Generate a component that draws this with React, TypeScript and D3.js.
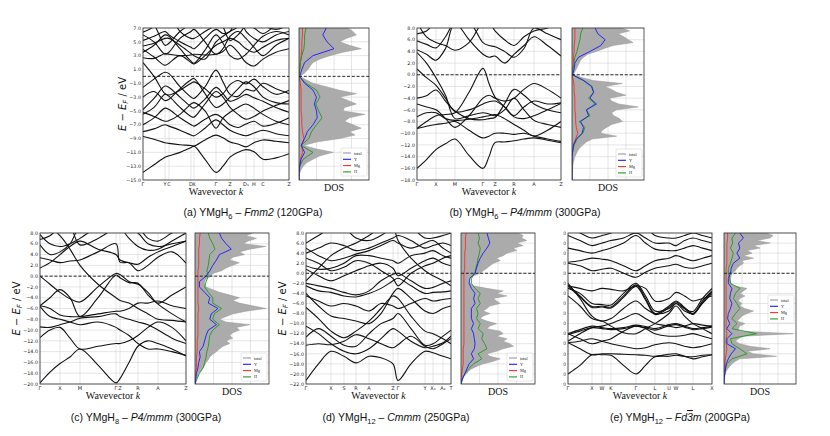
import React from 'react';
import * as d3 from 'd3';

// ---------- (a) YMgH6 Fmm2 ----------
const kLabelsA = ['Γ', 'Y', 'C', 'D', 'X', 'Γ', 'Z', 'D₁', 'H', 'C', 'Z'];
const kTicksA = [0, 22, 26, 48, 51, 73, 87, 103, 111, 120, 146];
const kGridA = [0, 11, 22, 26, 37, 48, 51, 62, 73, 80, 87, 95, 103, 111, 120, 133, 146];
const bandsA = [
  [-13.9, -12.8, -11.7, -11.5, -11.0, -10.3, -10.1, -12.0, -13.9, -13.0, -11.7, -11.0, -10.6, -10.9, -12.0, -11.8, -11.2],
  [-8.7, -9.1, -9.6, -9.7, -9.9, -10.0, -10.1, -9.2, -8.5, -8.9, -9.5, -9.8, -10.2, -9.6, -9.2, -9.4, -9.6],
  [-8.0, -7.6, -7.0, -7.2, -7.8, -8.5, -8.6, -7.5, -6.3, -7.0, -7.8, -8.3, -8.6, -8.2, -7.8, -8.3, -8.6],
  [-7.0, -6.0, -4.6, -4.8, -6.0, -7.0, -7.2, -6.2, -5.5, -6.1, -7.0, -7.4, -6.9, -6.5, -7.2, -6.8, -6.0],
  [-5.5, -4.5, -2.6, -2.9, -4.5, -5.8, -5.9, -4.0, -2.2, -3.0, -4.5, -5.5, -6.2, -5.8, -5.0, -4.2, -3.5],
  [-4.8, -3.2, -1.4, -1.6, -3.0, -4.4, -4.6, -3.3, -1.6, -2.5, -3.6, -3.2, -2.6, -3.1, -3.6, -4.5, -5.2],
  [-1.6, -0.4, 0.6, 0.4, -1.5, -3.0, -3.2, -1.5, 0.9, -0.8, -2.6, -2.9, -1.9, -2.1, -1.0, -1.8, -2.5],
  [2.0, 0.0, -2.5, -2.7, -2.0, -1.0, -0.8, -1.8, -3.0, -2.5, -1.2, -0.6, -1.1, -0.4, -1.5, -2.6, -2.0],
  [2.7, 2.6, 3.3, 3.2, 3.0, 3.1, 3.2, 3.1, 3.2, 3.6, 4.5, 3.5, 2.0, 1.5, 2.5, 3.5, 4.0],
  [3.9, 2.8, 1.6, 1.9, 3.0, 2.0, 1.8, 3.0, 4.5, 5.0, 5.5, 5.0, 4.0, 3.5, 4.2, 5.2, 5.5],
  [5.2, 5.8, 6.5, 6.0, 5.0, 4.2, 4.0, 5.5, 6.8, 6.2, 6.5, 9, 6.5, 5.5, 5.0, 6.0, 6.5],
  [6.4, 7.2, 9, 9, 6.5, 5.5, 5.5, 6.5, 7.5, 9, 9, 9, 7.5, 7.0, 6.2, 7.5, 9],
  [9, 7.5, 4.5, 4.8, 6.5, 7.5, 7.6, 9, 9, 7.2, 5.2, 6.0, 7.5, 9, 9, 9, 9],
  [4.4, 4.8, 5.5, 5.5, 4.5, 3.3, 3.0, 2.5, 5.0, 5.8, 6.5, 7.2, 9, 9, 7.5, 6.8, 7.5],
  [-5.2, -5.8, -6.5, -6.4, -5.5, -4.0, -3.8, -5.0, -7.5, -6.0, -5.2, -4.5, -4.0, -4.6, -5.5, -6.5, -7.0],
  [3.5, 4.5, 6.0, 5.8, 4.0, 2.2, 1.9, 3.8, 6.0, 4.8, 3.0, 2.5, 3.2, 4.5, 5.8, 6.5, 6.0],
  [6.0, 5.0, 3.2, 3.5, 5.5, 6.5, 6.8, 5.0, 3.2, 4.0, 5.8, 6.5, 5.5, 4.2, 3.0, 4.5, 5.5],
  [-3.0, -2.2, -3.5, -3.3, -1.8, -0.5, -0.3, -2.5, -4.5, -4.0, -3.0, -1.8, -0.8, -1.5, -3.0, -3.8, -4.0],
];
// DOS: total every 0.5 eV from the top energy, partials every 1 eV
const dosTotalA = [0.70, 0.77, 0.82, 0.68, 0.58, 0.72, 0.89, 0.63, 0.44, 0.30, 0.20, 0.16, 0.13, 0.08, 0.02,
  0.10, 0.20, 0.39, 0.58, 0.82, 0.58, 0.70, 0.82, 0.65, 0.63, 0.94, 0.72, 0.65, 0.77, 0.89, 0.72, 0.80, 0.58,
  0.25, 0.07, 0.25, 0.49, 0.30, 0.20, 0.11, 0.06, 0.03, 0.01, 0, 0];
const dosYA = [0.39, 0.34, 0.40, 0.50, 0.20, 0.08, 0.04, 0.01, 0.08, 0.20, 0.25, 0.22, 0.25, 0.26, 0.20, 0.12, 0.08, 0.03, 0.08, 0.03, 0.01, 0, 0];
const dosMgA = [0.05, 0.05, 0.04, 0.04, 0.03, 0.02, 0.01, 0.0, 0.02, 0.03, 0.03, 0.03, 0.03, 0.04, 0.04, 0.05, 0.07, 0.04, 0.05, 0.02, 0.01, 0, 0];
const dosHA = [0.10, 0.08, 0.08, 0.07, 0.04, 0.02, 0.01, 0.0, 0.10, 0.25, 0.30, 0.24, 0.28, 0.33, 0.25, 0.18, 0.14, 0.03, 0.20, 0.06, 0.01, 0, 0];

// ---------- (b) YMgH6 P4/mmm ----------
const kLabelsB = ['Γ', 'X', 'M', 'Γ', 'Z', 'R', 'A', 'Z'];
const kTicksB = [0, 19, 38, 66, 78, 97, 117, 144];
const kGridB = [0, 9.5, 19, 28.5, 38, 52, 66, 72, 78, 87.5, 97, 107, 117, 130.5, 144];
const bandsB = [
  [-16, -14.5, -12.8, -11.8, -11.0, -13.8, -16, -14, -11.6, -11.5, -11.3, -11.0, -10.8, -11.2, -11.6],
  [-9.2, -8.0, -7.0, -6.8, -6.5, -3.0, 1.1, -1.5, -3.8, -5.5, -7.2, -7.5, -7.0, -6.0, -4.9],
  [1.0, -0.5, -1.8, -4.0, -6.3, -6.0, -5.0, -4.6, -4.5, -5.5, -7.0, -5.5, -4.5, -5.0, -4.8],
  [3.8, 2.0, -0.5, -3.5, -7.5, -7.0, -6.5, -6.7, -7.0, -6.0, -4.0, -6.0, -7.8, -8.5, -9.0],
  [-4.0, -3.6, -2.6, -4.5, -6.2, -7.5, -7.7, -7.5, -7.3, -5.0, -2.5, -3.5, -5.0, -6.0, -6.5],
  [-7.2, -6.5, -6.5, -7.5, -7.8, -7.6, -7.2, -7.0, -6.8, -7.5, -8.5, -9.5, -10.5, -9.5, -8.0],
  [-9.2, -8.8, -8.5, -8.3, -8.0, -9.5, -10.8, -10.5, -10.0, -10.0, -10.2, -10.0, -10.5, -11.0, -11.4],
  [9, 6.5, 5.5, 5.0, 4.2, 5.5, 9, 9, 9, 9, 9, 9, 9, 9, 9],
  [4.3, 3.5, 2.5, 4.5, 9, 9, 9, 9, 9, 9, 9, 9, 9, 9, 9],
  [5.8, 5.2, 4.6, 6.5, 9, 9, 9, 9, 9, 9, 9, 9, 9, 9, 9],
  [9, 9, 9, 9, 9, 6.0, 3.5, 3.0, 3.2, 2.0, 3.5, 5.0, 6.5, 5.0, 3.2],
  [9, 9, 9, 9, 9, 9, 5.5, 5.0, 4.8, 4.0, 3.0, 4.5, 8.0, 7.0, 6.0],
  [-5.0, -5.5, -6.0, -7.5, -9.0, -7.0, -4.0, -3.5, -4.0, -4.5, -4.0, -2.5, -1.5, -2.5, -4.0],
  [7.0, 7.5, 9, 9, 9, 9, 9, 9, 7.5, 6.0, 5.0, 6.5, 7.5, 8.0, 9],
];
const dosTotalB = [0.69, 0.80, 0.64, 0.72, 0.78, 0.85, 0.57, 0.45, 0.34, 0.22, 0.16, 0.12, 0.10, 0.08, 0.06, 0.04, 0.02,
  0.15, 0.30, 0.70, 0.45, 0.55, 0.62, 0.75, 0.52, 0.55, 0.65,
  0.92, 0.62, 0.55, 0.58, 0.66, 0.70, 0.55, 0.48, 0.42, 0.40,
  0.62, 0.28, 0.20, 0.15, 0.11, 0.08, 0.06, 0.04, 0.03, 0.02,
  0.01, 0.01, 0.005, 0, 0, 0];
const dosYB = [0.32, 0.36, 0.46, 0.40, 0.25, 0.09, 0.04, 0.03, 0.01, 0.16, 0.27, 0.30, 0.25, 0.34, 0.20, 0.23, 0.12, 0.16, 0.14, 0.06, 0.02, 0.01, 0, 0, 0, 0, 0];
const dosMgB = [0.04, 0.04, 0.04, 0.03, 0.03, 0.02, 0.02, 0.01, 0, 0.02, 0.03, 0.03, 0.04, 0.04, 0.04, 0.05, 0.05, 0.06, 0.08, 0.05, 0.02, 0.01, 0, 0, 0, 0, 0];
const dosHB = [0.15, 0.12, 0.11, 0.09, 0.07, 0.04, 0.03, 0.02, 0.0, 0.17, 0.28, 0.30, 0.23, 0.32, 0.20, 0.25, 0.10, 0.18, 0.15, 0.07, 0.03, 0.01, 0, 0, 0, 0, 0];

// ---------- (c) YMgH8 P4/mmm ----------
const kLabelsC = ['Γ', 'X', 'M', 'Γ', 'Z', 'R', 'A', 'Z'];
const kTicksC = [0, 20, 40, 76, 80, 98, 118, 146];
const kGridC = [0, 10, 20, 30, 40, 58, 76, 80, 89, 98, 108, 118, 132, 146];
const bandsC = [
  [-19.8, -17.8, -16.2, -15.0, -13.5, -16.5, -19.8, -19.0, -16.0, -13.0, -12.0, -12.5, -13.5, -14.8],
  [-11.4, -10.0, -9.5, -11.5, -13.5, -13.0, -12.5, -12.5, -12.0, -11.0, -9.5, -8.5, -9.5, -12.0],
  [-9.4, -9.5, -9.0, -8.5, -7.8, -7.5, -7.0, -7.5, -8.0, -8.5, -9.0, -10.0, -11.5, -12.5],
  [0.0, -1.5, -3.0, -4.2, -4.8, -2.0, 0.5, 0.3, -1.0, -1.5, -3.0, -5.0, -3.5, -2.0],
  [-5.5, -6.0, -7.2, -7.5, -7.5, -7.0, -6.5, -6.5, -6.0, -5.0, -5.0, -4.6, -5.5, -6.0],
  [-5.5, -4.0, -2.5, -4.0, -7.5, -4.0, 0.2, -0.3, -1.2, -1.3, -3.5, -5.2, -7.0, -8.5],
  [-5.6, -7.5, -8.0, -8.5, -9.0, -8.5, -9.5, -10.0, -11.0, -12.5, -13.5, -13.5, -14.0, -14.7],
  [1.5, 2.5, 4.0, 5.5, 6.5, 5.0, 4.0, 3.0, 2.5, 2.2, 3.5, 4.5, 5.5, 6.5],
  [3.4, 3.0, 2.5, 2.8, 3.0, 4.5, 6.0, 2.6, 2.5, 1.0, 2.0, 3.5, 4.5, 2.4],
  [5.8, 4.0, 4.5, 6.0, 9, 9, 9, 9, 7.0, 5.5, 4.8, 5.0, 6.5, 8.0],
  [7.7, 6.0, 5.5, 6.0, 7.0, 9, 9, 9, 9, 9, 7.0, 6.5, 8.0, 9],
  [9, 9, 7.5, 5.0, 2.0, -1.5, -4.0, -4.5, -5.0, -6.0, -7.0, -8.0, -8.2, -8.5],
  [6.8, 7.5, 9, 9, 5.8, 7.0, 9, 9, 9, 8.0, 6.0, 5.5, 6.0, 6.5],
];
const dosTotalC = [0.78, 0.69, 0.83, 0.72, 0.65, 0.96, 0.74, 0.60, 0.67, 0.51, 0.47, 0.60, 0.51, 0.42, 0.36, 0.24, 0.22,
  0.15, 0.13, 0.13, 0.15, 0.24, 0.33, 0.47, 0.60, 0.51, 0.60,
  0.78, 0.96, 0.69, 0.51, 0.42, 0.33, 0.42, 0.74, 0.56, 0.60,
  0.51, 0.47, 0.51, 0.42, 0.47, 0.38, 0.33, 0.29, 0.24, 0.20,
  0.18, 0.15, 0.13, 0.11, 0.08, 0.05, 0.04, 0.02, 0.01, 0];
const dosYC = [0.33, 0.36, 0.42, 0.49, 0.33, 0.29, 0.24, 0.20, 0.15, 0.06, 0.06, 0.13, 0.20, 0.18, 0.31, 0.22, 0.20, 0.29, 0.18,
  0.15, 0.13, 0.11, 0.06, 0.07, 0.05, 0.04, 0.02, 0.01, 0];
const dosMgC = [0.07, 0.06, 0.06, 0.05, 0.05, 0.05, 0.05, 0.04, 0.04, 0.04, 0.04, 0.04, 0.04, 0.04, 0.05, 0.04, 0.04, 0.04, 0.04,
  0.04, 0.03, 0.03, 0.03, 0.02, 0.02, 0.02, 0.01, 0.01, 0];
const dosHC = [0.18, 0.20, 0.24, 0.27, 0.20, 0.19, 0.18, 0.16, 0.18, 0.15, 0.13, 0.18, 0.24, 0.24, 0.36, 0.26, 0.24, 0.33, 0.24,
  0.20, 0.19, 0.18, 0.16, 0.15, 0.13, 0.11, 0.06, 0.03, 0];

// ---------- (d) YMgH12 Cmmm ----------
const kLabelsD = ['Γ', 'X', 'S', 'R', 'A', 'Z', 'Γ', 'Y', 'X₁', 'A₁', 'T'];
const kTicksD = [0, 25, 38, 50, 63, 87, 92, 119, 127, 137, 145];
const kGridD = [0, 12.5, 25, 38, 50, 63, 75, 87, 92, 105, 119, 127, 137, 145];
const bandsD = [
  [-21.3, -18.0, -15.5, -16.5, -17.8, -16.5, -16.8, -18.0, -21.3, -18.0, -15.5, -15.8, -16.5, -17.0],
  [-14.3, -14.0, -14.2, -13.5, -12.2, -13.0, -14.0, -14.8, -14.2, -12.5, -14.5, -15.0, -14.0, -13.0],
  [-12.7, -11.0, -12.5, -14.3, -14.5, -12.0, -10.0, -9.0, -8.0, -11.0, -14.3, -14.0, -12.5, -11.3],
  [-6.8, -9.0, -11.5, -12.8, -11.5, -9.5, -7.0, -4.5, -5.0, -8.5, -11.5, -12.0, -13.0, -14.0],
  [-4.0, -6.5, -8.5, -9.0, -9.5, -10.0, -8.0, -4.0, -3.0, -5.0, -7.5, -8.0, -7.0, -6.5],
  [-2.5, -3.5, -3.8, -4.5, -4.7, -4.0, -3.0, -1.5, -1.0, -2.5, -4.0, -3.8, -3.7, -3.5],
  [-2.0, -2.5, -3.0, -3.8, -4.3, -3.5, -1.5, -0.2, 0.0, -1.5, -3.0, -2.8, -2.0, -1.5],
  [0.8, -0.5, -1.5, -0.5, 0.5, 1.5, 2.0, 1.0, -0.5, 1.0, 2.5, 3.0, 2.0, 1.5],
  [1.5, 0.8, 1.0, 2.0, 3.5, 3.5, 3.0, 2.5, 2.0, 3.5, 4.0, 4.5, 3.5, 3.0],
  [4.0, 5.0, 6.0, 5.5, 4.5, 5.0, 6.0, 7.0, 7.5, 6.5, 5.0, 5.5, 6.0, 5.5],
  [6.0, 7.5, 9, 9, 7.0, 6.5, 7.5, 9, 9, 9, 7.0, 7.0, 7.5, 8.0],
  [5.0, 3.5, 2.5, 3.0, 3.8, 4.5, 5.5, 6.5, 6.0, 5.0, 6.0, 6.5, 5.0, 4.0],
  [-1.5, 1.0, 3.5, 5.0, 6.0, 7.5, 9, 9, 6.5, 3.0, 0.5, -0.5, -1.5, -2.5],
  [-10.5, -12.0, -14.0, -15.5, -16.0, -15.0, -13.0, -11.0, -11.5, -13.5, -14.8, -14.5, -13.8, -12.5],
  [3.0, 2.0, 0.5, 1.2, 2.5, 2.0, 0.5, -1.0, -2.5, 0.0, 1.5, 2.0, 3.0, 3.5],
  [-4.5, -5.5, -6.5, -6.0, -6.5, -7.5, -6.0, -6.5, -7.0, -6.0, -5.0, -5.5, -5.2, -5.0],
];
const dosTotalD = [0.77, 0.84, 0.82, 0.89, 0.75, 0.84, 0.71, 0.75, 0.62, 0.57, 0.48, 0.53, 0.44, 0.39, 0.35, 0.30, 0.26,
  0.17, 0.12, 0.11, 0.12, 0.17, 0.35, 0.57, 0.48, 0.62, 0.44,
  0.48, 0.53, 0.39, 0.35, 0.30, 0.39, 0.30, 0.26, 0.35, 0.48,
  0.39, 0.35, 0.53, 0.57, 0.48, 0.62, 0.57, 0.66, 0.71, 0.57,
  0.48, 0.35, 0.39, 0.53, 0.44, 0.30, 0.21, 0.14, 0.10, 0.07,
  0.04, 0.02, 0.01, 0];
const dosYD = [0.35, 0.37, 0.39, 0.35, 0.30, 0.26, 0.23, 0.21, 0.19, 0.12, 0.11, 0.14, 0.19, 0.17, 0.19, 0.14, 0.14, 0.14, 0.17,
  0.14, 0.17, 0.18, 0.19, 0.18, 0.14, 0.17, 0.11, 0.08, 0.05, 0.02, 0];
const dosMgD = [0.07, 0.06, 0.06, 0.06, 0.05, 0.05, 0.05, 0.05, 0.04, 0.04, 0.04, 0.04, 0.04, 0.04, 0.04, 0.04, 0.04, 0.04, 0.04,
  0.04, 0.04, 0.04, 0.04, 0.03, 0.03, 0.03, 0.03, 0.02, 0.01, 0.01, 0];
const dosHD = [0.23, 0.25, 0.23, 0.26, 0.25, 0.23, 0.22, 0.20, 0.19, 0.14, 0.14, 0.19, 0.26, 0.23, 0.26, 0.21, 0.23, 0.21, 0.26,
  0.23, 0.30, 0.28, 0.32, 0.35, 0.23, 0.28, 0.17, 0.10, 0.05, 0.02, 0];

// ---------- (e) YMgH12 Fd-3m ----------
const kLabelsE = ['Γ', 'X', 'W', 'K', 'Γ', 'L', 'U', 'W', 'L', 'X'];
const kTicksE = [0, 24, 34, 43, 68, 87, 101, 108, 125, 144];
const kGridE = [0, 12, 24, 34, 43, 55.5, 68, 77.5, 87, 101, 108, 116.5, 125, 134.5, 144];
const bandsE = [
  [-20, -18.3, -16.2, -16.2, -16.3, -18.3, -20, -18.3, -16.6, -16.5, -16.3, -16.5, -16.6, -16.3, -16.2],
  [-13.8, -15.0, -16.2, -16.0, -16.0, -16.1, -16.2, -16.3, -16.5, -16.1, -16.0, -16.5, -17.0, -16.6, -16.2],
  [-13.8, -13.5, -13.0, -13.5, -14.0, -14.5, -15.0, -14.8, -14.2, -13.8, -14.0, -14.5, -14.8, -14.5, -14.0],
  [-12.0, -13.0, -14.0, -13.5, -13.0, -11.5, -10.5, -11.0, -12.0, -12.5, -12.5, -12.3, -12.0, -12.5, -13.0],
  [-12.0, -11.2, -10.5, -10.8, -11.0, -10.8, -10.3, -10.6, -11.0, -10.2, -10.0, -10.5, -11.0, -10.8, -10.5],
  [-2.3, -4.5, -6.6, -6.5, -6.7, -4.5, -2.3, -5.0, -8.0, -6.5, -5.5, -6.8, -8.0, -5.5, -3.5],
  [-2.0, -5.0, -8.5, -9.5, -9.0, -7.0, -5.5, -7.0, -8.0, -7.5, -6.0, -7.5, -8.0, -6.0, -4.0],
  [-4.5, -6.5, -9.0, -9.5, -10.5, -11.8, -12.0, -11.0, -10.0, -8.0, -6.5, -8.5, -10.0, -11.0, -12.0],
  [-2.5, -3.0, -3.5, -3.0, -3.2, -3.5, -2.5, -3.0, -5.5, -5.0, -3.8, -4.5, -5.5, -5.0, -4.5],
  [2.0, 1.5, 0.5, 0.8, 1.0, 0.0, -0.8, 0.2, 1.0, 1.5, 1.8, 1.2, 1.0, 1.5, 2.0],
  [2.2, 2.5, 3.0, 2.8, 2.5, 1.5, 0.5, 1.5, 2.5, 3.0, 3.5, 3.0, 2.5, 3.0, 3.5],
  [5.0, 4.5, 4.0, 4.5, 5.0, 6.0, 7.5, 6.0, 4.8, 4.5, 4.5, 5.0, 5.5, 5.0, 4.5],
  [7.5, 6.5, 5.5, 6.0, 6.5, 7.0, 8.0, 7.0, 6.0, 6.0, 5.5, 6.5, 7.0, 6.5, 6.0],
  [9, 8.0, 7.0, 7.5, 8.0, 9, 8.0, 9, 7.5, 7.0, 7.0, 7.5, 8.0, 7.5, 7.0],
  [-13.5, -12.0, -10.8, -10.5, -10.0, -9.0, -8.0, -9.0, -10.0, -10.5, -10.8, -10.5, -10.0, -10.3, -10.5],
  [-3.0, -4.0, -6.0, -6.2, -6.3, -4.0, -2.0, -4.5, -7.5, -7.0, -6.0, -7.0, -7.6, -5.0, -3.0],
  [-12.2, -11.5, -10.8, -11.0, -11.2, -11.0, -10.5, -10.8, -11.3, -10.4, -10.2, -10.7, -11.2, -11.0, -10.7],
  [-2.6, -4.7, -6.8, -6.7, -6.9, -4.8, -2.6, -5.3, -8.2, -6.8, -5.7, -7.0, -8.2, -5.8, -3.7],
];
const dosTotalE = [0.59, 0.68, 0.64, 0.45, 0.64, 0.41, 0.50, 0.32, 0.39, 0.27, 0.41, 0.25, 0.27, 0.22, 0.18, 0.16, 0.11,
  0.10, 0.09, 0.09, 0.10, 0.13, 0.32, 0.27, 0.22, 0.29, 0.22,
  0.20, 0.25, 0.22, 0.29, 0.41, 0.32, 0.25, 0.22, 0.18, 0.29,
  0.22, 0.20, 0.22, 0.96, 0.27, 0.20, 0.16, 0.22, 0.36, 0.64,
  0.32, 0.41, 0.73, 0.22, 0.16, 0.11, 0.08, 0.05, 0.03, 0.02,
  0.01, 0.005, 0, 0];
const dosYE = [0.22, 0.27, 0.20, 0.22, 0.18, 0.22, 0.13, 0.10, 0.09, 0.06, 0.06, 0.11, 0.09, 0.08, 0.11, 0.09, 0.06, 0.05, 0.08,
  0.04, 0.11, 0.04, 0.04, 0.16, 0.10, 0.06, 0.03, 0.02, 0.01, 0, 0];
const dosMgE = [0.05, 0.05, 0.04, 0.04, 0.04, 0.04, 0.04, 0.03, 0.03, 0.03, 0.03, 0.03, 0.03, 0.03, 0.03, 0.03, 0.03, 0.03, 0.03,
  0.03, 0.04, 0.03, 0.03, 0.04, 0.03, 0.02, 0.01, 0.01, 0, 0, 0];
const dosHE = [0.16, 0.11, 0.12, 0.09, 0.13, 0.11, 0.09, 0.06, 0.06, 0.08, 0.09, 0.22, 0.16, 0.13, 0.18, 0.22, 0.16, 0.11, 0.18,
  0.11, 0.45, 0.09, 0.11, 0.22, 0.32, 0.11, 0.04, 0.02, 0.01, 0, 0];

const legendNames = ['total', 'Y', 'Mg', 'H'];
const legendColors = ['#999999', '#1a1aff', '#ff2a2a', '#1e9a1e'];

const SANS = 'DejaVu Sans, sans-serif';
const SERIF = 'Liberation Serif, Times New Roman, serif';

type PanelProps = {
  id: string;
  x0: number; x1: number; d0: number; d1: number; top: number; bottom: number;
  eMin: number; eMax: number;
  kTicks: number[]; kLabels: string[]; kGrid: number[]; bands: number[][];
  total: number[]; dY: number[]; dMg: number[]; dH: number[];
  legendTop: number;
  yLabelX: number | null;
  clipTicks?: boolean;
  caption: React.ReactNode; capX: number; capY: number;
};

function Panel(p: PanelProps) {
  const ys = d3.scaleLinear().domain([p.eMin, p.eMax]).range([p.bottom, p.top]);
  const xs = d3.scaleLinear().domain([0, p.kTicks[p.kTicks.length - 1]]).range([p.x0, p.x1]);
  const xd = d3.scaleLinear().domain([0, 1]).range([p.d0, p.d1]);
  const yTicks = d3.range(p.eMin, p.eMax + 0.001, 2);
  const fmt = d3.format('.1f');
  const bandLine = d3.line<number>().x((_, i) => xs(p.kGrid[i])).y(d => ys(d)).curve(d3.curveCatmullRom.alpha(0.5));
  const totalArea = d3.area<number>().y((_, i) => ys(p.eMax - i * 0.5)).x0(xd(0)).x1(d => xd(d));
  const totalLine = d3.line<number>().x(d => xd(d)).y((_, i) => ys(p.eMax - i * 0.5));
  const partLine = d3.line<number>().x(d => xd(d)).y((_, i) => ys(p.eMax - i));
  const grid = '#d4d4d4';
  const lx = p.d1 - 28;
  const ly = p.legendTop;
  return (
    <g>
      <defs>
        <clipPath id={`band-${p.id}`}><rect x={p.x0} y={p.top} width={p.x1 - p.x0} height={p.bottom - p.top} /></clipPath>
        <clipPath id={`dos-${p.id}`}><rect x={p.d0} y={p.top} width={p.d1 - p.d0} height={p.bottom - p.top} /></clipPath>
        <clipPath id={`tick-${p.id}`}><rect x={p.x0 - 4.6} y={p.top - 10} width={2.8} height={p.bottom - p.top + 20} /></clipPath>
      </defs>
      {/* band panel grid */}
      {yTicks.map(t => (
        <line key={`gy${t}`} x1={p.x0} x2={p.x1} y1={ys(t)} y2={ys(t)} stroke={grid} strokeWidth={0.6} />
      ))}
      {p.kTicks.map((k, i) => (
        <line key={`gk${i}`} x1={xs(k)} x2={xs(k)} y1={p.top} y2={p.bottom} stroke={grid} strokeWidth={0.6} />
      ))}
      <g clipPath={`url(#band-${p.id})`}>
        {p.bands.map((b, i) => (
          <path key={i} d={bandLine(b) || ''} fill="none" stroke="#111" strokeWidth={1.1} />
        ))}
      </g>
      <line x1={p.x0} x2={p.x1} y1={ys(0)} y2={ys(0)} stroke="#111" strokeWidth={0.9} strokeDasharray="3,1.8" />
      <rect x={p.x0} y={p.top} width={p.x1 - p.x0} height={p.bottom - p.top} fill="none" stroke="#333" strokeWidth={0.8} />
      <g clipPath={p.clipTicks ? `url(#tick-${p.id})` : undefined}>
        {yTicks.map(t => (
          <text key={`ty${t}`} x={p.x0 - 2} y={ys(t) + 1.7} fontSize={4.8} fontFamily={SANS} textAnchor="end" fill="#222">{fmt(t)}</text>
        ))}
      </g>
      {p.kTicks.map((k, i) => (
        <text key={`tk${i}`} x={xs(k)} y={p.bottom + 5.5} fontSize={5} fontFamily={SANS} textAnchor="middle" fill="#222">{p.kLabels[i]}</text>
      ))}
      <text x={(p.x0 + p.x1) / 2} y={p.bottom + 15} fontSize={10} fontFamily={SERIF} textAnchor="middle" fill="#111">
        Wavevector <tspan fontStyle="italic">k</tspan>
      </text>
      {p.yLabelX !== null && (
        <text transform={`translate(${p.yLabelX},${(p.top + p.bottom) / 2}) rotate(-90)`} fontSize={10} fontFamily={SANS} textAnchor="middle" fill="#111">
          <tspan fontStyle="italic">E</tspan> − <tspan fontStyle="italic">E</tspan><tspan fontSize={7} dy={2} fontStyle="italic">F</tspan><tspan dy={-2}> / eV</tspan>
        </text>
      )}

      {/* DOS panel */}
      {yTicks.map(t => (
        <line key={`dy${t}`} x1={p.d0} x2={p.d1} y1={ys(t)} y2={ys(t)} stroke={grid} strokeWidth={0.6} />
      ))}
      {[0.25, 0.5, 0.75].map(v => (
        <line key={`dx${v}`} x1={xd(v)} x2={xd(v)} y1={p.top} y2={p.bottom} stroke={grid} strokeWidth={0.6} />
      ))}
      <g clipPath={`url(#dos-${p.id})`}>
        <path d={totalArea(p.total) || ''} fill="#ababab" />
        <path d={totalLine(p.total) || ''} fill="none" stroke="#999" strokeWidth={0.5} />
        <path d={partLine(p.dMg) || ''} fill="none" stroke={legendColors[2]} strokeWidth={0.9} />
        <path d={partLine(p.dH) || ''} fill="none" stroke={legendColors[3]} strokeWidth={0.9} />
        <path d={partLine(p.dY) || ''} fill="none" stroke={legendColors[1]} strokeWidth={0.9} />
      </g>
      <line x1={p.d0} x2={p.d1} y1={ys(0)} y2={ys(0)} stroke="#111" strokeWidth={0.9} strokeDasharray="3,1.8" />
      <rect x={p.d0} y={p.top} width={p.d1 - p.d0} height={p.bottom - p.top} fill="none" stroke="#333" strokeWidth={0.8} />
      <text x={(p.d0 + p.d1) / 2} y={p.bottom + 11} fontSize={10} fontFamily={SERIF} textAnchor="middle" fill="#111">DOS</text>
      <rect x={lx} y={ly} width={26} height={28} rx={1.2} fill="#fff" fillOpacity={0.9} stroke="#ccc" strokeWidth={0.5} />
      {legendNames.map((n, i) => (
        <g key={n}>
          <line x1={lx + 2} x2={lx + 10} y1={ly + 5 + i * 6.3} y2={ly + 5 + i * 6.3} stroke={legendColors[i]} strokeWidth={1.1} />
          <text x={lx + 13} y={ly + 6.5 + i * 6.3} fontSize={4.3} fontFamily={SERIF} fill="#222">{n}</text>
        </g>
      ))}

      <text x={p.capX} y={p.capY} fontSize={10.5} fontFamily="Liberation Sans, Arial, sans-serif" textAnchor="middle" fill="#111">
        {p.caption}
      </text>
    </g>
  );
}

function Formula({ tag, n, sg, p }: { tag: string; n: string; sg: React.ReactNode; p: string }) {
  return (
    <>
      ({tag}) YMgH<tspan fontSize={7.5} dy={2.5}>{n}</tspan><tspan dy={-2.5}> – </tspan>
      <tspan fontStyle="italic">{sg}</tspan> ({p})
    </>
  );
}

export default function App() {
  return (
    <svg width={830} height={436} viewBox="0 0 830 436" style={{ position: 'absolute', left: 0, top: 0, background: '#fff' }}>
      <Panel id="a" x0={143} x1={289} d0={299} d1={369} top={28} bottom={180} eMin={-15} eMax={7}
        kTicks={kTicksA} kLabels={kLabelsA} kGrid={kGridA} bands={bandsA}
        total={dosTotalA} dY={dosYA} dMg={dosMgA} dH={dosHA} legendTop={148} yLabelX={126}
        caption={<Formula tag="a" n="6" sg="Fmm2" p="120GPa" />} capX={253} capY={216} />
      <Panel id="b" x0={417} x1={561} d0={572} d1={644} top={28} bottom={180} eMin={-18} eMax={8}
        kTicks={kTicksB} kLabels={kLabelsB} kGrid={kGridB} bands={bandsB}
        total={dosTotalB} dY={dosYB} dMg={dosMgB} dH={dosHB} legendTop={149} yLabelX={null}
        caption={<Formula tag="b" n="6" sg="P4/mmm" p="300GPa" />} capX={525} capY={216} />
      <Panel id="c" x0={40} x1={186} d0={195} d1={269} top={233} bottom={384} eMin={-20} eMax={8}
        kTicks={kTicksC} kLabels={kLabelsC} kGrid={kGridC} bands={bandsC}
        total={dosTotalC} dY={dosYC} dMg={dosMgC} dH={dosHC} legendTop={353} yLabelX={20}
        caption={<Formula tag="c" n="8" sg="P4/mmm" p="300GPa" />} capX={146} capY={421} />
      <Panel id="d" x0={306} x1={451} d0={461} d1={535} top={233} bottom={384} eMin={-22} eMax={8}
        kTicks={kTicksD} kLabels={kLabelsD} kGrid={kGridD} bands={bandsD}
        total={dosTotalD} dY={dosYD} dMg={dosMgD} dH={dosHD} legendTop={353} yLabelX={286}
        caption={<Formula tag="d" n="12" sg="Cmmm" p="250GPa" />} capX={396} capY={421} />
      <Panel id="e" x0={568} x1={712} d0={724} d1={796} top={233} bottom={384} eMin={-22} eMax={8}
        kTicks={kTicksE} kLabels={kLabelsE} kGrid={kGridE} bands={bandsE}
        total={dosTotalE} dY={dosYE} dMg={dosMgE} dH={dosHE} legendTop={295} yLabelX={null} clipTicks
        caption={<Formula tag="e" n="12" sg={<>Fd<tspan textDecoration="overline">3</tspan>m</>} p="200GPa" />} capX={680} capY={421} />
    </svg>
  );
}
